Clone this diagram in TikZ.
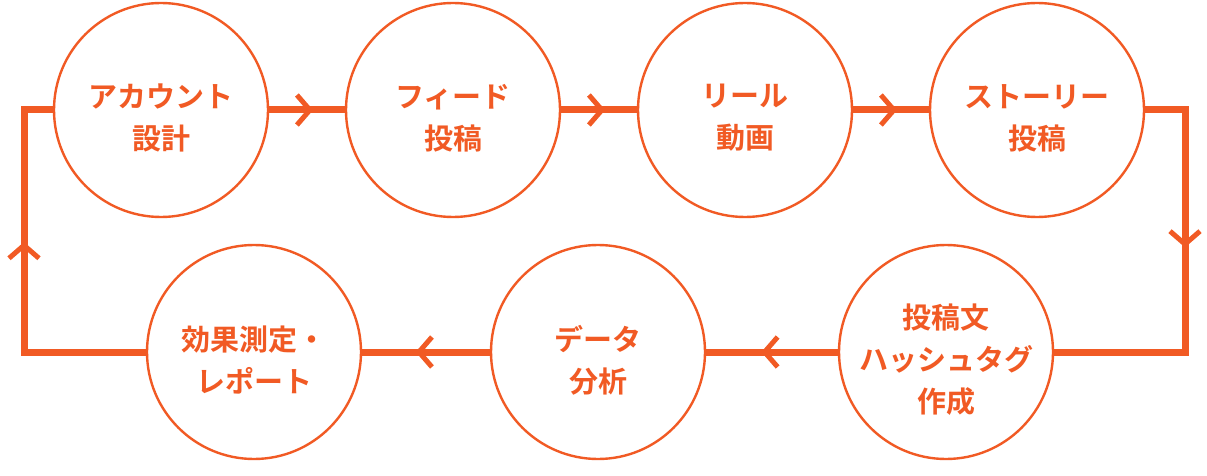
\documentclass[tikz,border=0pt]{standalone}
\usepackage{fontspec}
\newfontfamily\jpfont{Noto Sans CJK JP}[BoldFont={* Bold}]
\usetikzlibrary{arrows.meta,decorations.markings}
\definecolor{flow}{HTML}{F15A24}
\begin{document}
\begin{tikzpicture}[x=1pt,y=-1pt,inner sep=0pt]
    \tikzset{stage/.style={circle,minimum size=214pt,text=flow,
        font=\jpfont\bfseries\fontsize{29}{42}\selectfont,align=center},
      link/.style={draw=flow,line width=7pt},
      chev/.style={postaction={decorate},decoration={markings,
        mark=at position #1 with {\arrow[flow,line width=5pt]{Straight Barb[length=13pt,width=30pt]}}}}}
    \useasboundingbox (0,0) rectangle (1207,476);
    \coordinate (r1) at (1185,110);
    \coordinate (r2) at (1185,352);
    \coordinate (l1) at (24,352);
    \coordinate (l2) at (24,110);
    \node[stage] (a1) at (161,110) {};
    \node[stage] (a2) at (453,110) {};
    \node[stage] (a3) at (745,110) {};
    \node[stage] (a4) at (1037,110) {};
    \node[stage] (b1) at (946,352) {};
    \node[stage] (b2) at (598,352) {};
    \node[stage] (b3) at (254,352) {};
    \foreach \i/\j in {a1/a2,a2/a3,a3/a4,b1/b2,b2/b3} {
        \path[link,chev=0.58] (\i) -- (\j);
    };
    \path[link,chev=0.43] (a4.east) -- (r1) -- (r2) -- (b1.east);
    \path[link,chev=0.59] (b3.west) -- (l1) -- (l2) -- (a1.west);
    % circles and labels on top of the line ends
    \foreach \n/\t in {a1/{アカウント\\設計},a2/{フィード\\投稿},a3/{リール\\動画},
        a4/{ストーリー\\投稿},b1/{投稿文\\ハッシュタグ\\作成},b2/{データ\\分析},b3/{効果測定・\\レポート}} {
        \draw[flow,line width=2.4pt,fill=white] (\n) circle (107pt);
        \node[stage,yshift=-8pt] at (\n) {\t};
    };
\end{tikzpicture}
\end{document}
